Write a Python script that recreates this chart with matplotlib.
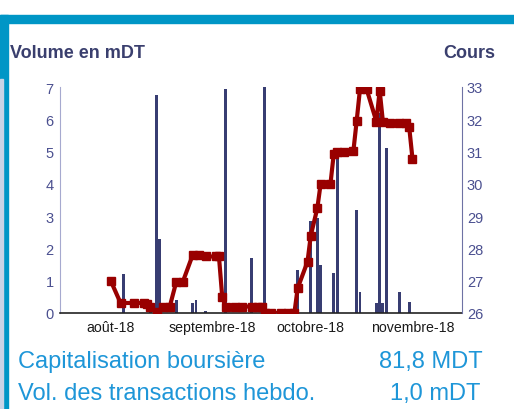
import datetime as dt

import matplotlib
matplotlib.use("Agg")
import matplotlib.pyplot as plt
import matplotlib.dates as mdates
from matplotlib.patches import Rectangle

# Colors
FRAME_BLUE = "#0096C6"
BAR_COLOR = "#383D72"
LINE_COLOR = "#990000"
TITLE_COLOR = "#3A3F6E"
TICK_COLOR = "#4B5090"
INFO_COLOR = "#1E96D8"

plt.rcParams["font.family"] = ["Liberation Sans", "DejaVu Sans"]

# Daily traded volume (mDT), left axis
bar_dates = ["2018-08-05", "2018-08-13", "2018-08-15", "2018-08-16", "2018-08-21",
             "2018-08-26", "2018-08-27", "2018-08-30", "2018-09-05", "2018-09-13",
             "2018-09-17", "2018-09-27", "2018-10-01", "2018-10-03", "2018-10-04",
             "2018-10-08", "2018-10-09", "2018-10-15", "2018-10-16", "2018-10-21",
             "2018-10-22", "2018-10-23", "2018-10-24", "2018-10-28", "2018-10-31"]
bar_volume = [1.2, 0.1, 6.76, 2.3, 0.4,
              0.3, 0.4, 0.07, 6.94, 1.7,
              7.0, 1.34, 2.86, 2.94, 1.49,
              1.24, 4.91, 3.19, 0.65, 0.32,
              6.2, 0.32, 5.1, 0.65, 0.34]

# Share price (cours), right axis
price_dates = ["2018-08-01", "2018-08-04", "2018-08-08", "2018-08-11", "2018-08-12",
               "2018-08-13", "2018-08-15", "2018-08-17", "2018-08-19", "2018-08-21",
               "2018-08-23", "2018-08-26", "2018-08-28", "2018-08-30", "2018-09-02",
               "2018-09-03", "2018-09-04", "2018-09-05", "2018-09-08", "2018-09-10",
               "2018-09-13", "2018-09-15", "2018-09-16", "2018-09-17", "2018-09-19",
               "2018-09-22", "2018-09-24", "2018-09-26", "2018-09-27", "2018-09-30",
               "2018-10-01", "2018-10-03", "2018-10-04", "2018-10-07", "2018-10-08",
               "2018-10-09", "2018-10-11", "2018-10-14", "2018-10-15", "2018-10-16",
               "2018-10-18", "2018-10-21", "2018-10-22", "2018-10-23", "2018-10-25",
               "2018-10-28", "2018-10-30", "2018-10-31", "2018-11-01"]
price = [27.0, 26.31, 26.31, 26.31, 26.28,
         26.2, 26.02, 26.2, 26.2, 26.97,
         26.97, 27.8, 27.8, 27.75, 27.75,
         27.75, 26.5, 26.2, 26.2, 26.2,
         26.2, 26.2, 26.18, 26.0, 26.0,
         26.0, 26.0, 26.0, 26.77, 27.59,
         28.4, 29.25, 30.0, 30.0, 30.93,
         31.0, 31.0, 31.03, 31.96, 32.94,
         32.94, 31.93, 32.89, 31.91, 31.9,
         31.88, 31.88, 31.76, 30.78]

month_ticks = ["2018-08-01", "2018-09-01", "2018-10-01", "2018-11-01"]
month_labels = ["août-18", "septembre-18", "octobre-18", "novembre-18"]

# Info lines under the chart
info_labels = ["Capitalisation boursière", "Vol. des transactions hebdo."]
info_values = ["81,8 MDT", "1,0 mDT"]


def to_num(dates):
    return [mdates.date2num(dt.datetime.strptime(d, "%Y-%m-%d")) for d in dates]


# Draws the blue frame (top band and left bar) around the card
def draw_frame(fig):
    fig.patches.append(Rectangle((0, 1 - 24 / 410), 1, 8 / 410, transform=fig.transFigure,
                                 color=FRAME_BLUE, zorder=0))
    fig.patches.append(Rectangle((0, 0), 8 / 514, 1 - 16 / 410, transform=fig.transFigure,
                                 color=FRAME_BLUE, zorder=0))
    fig.patches.append(Rectangle((0, 0), 2.5 / 514, 1 - 80 / 410, transform=fig.transFigure,
                                 color="#C9D4E6", zorder=1))


def create_chart():
    fig = plt.figure(figsize=(5.14, 4.10), dpi=100)
    draw_frame(fig)

    ax = fig.add_axes([60 / 514, 1 - 314 / 410, 402 / 514, 226 / 410])
    ax2 = ax.twinx()

    ax.bar(to_num(bar_dates), bar_volume, width=0.9, color=BAR_COLOR, zorder=2)
    ax2.plot(to_num(price_dates), price, color=LINE_COLOR, linewidth=3.0,
             marker="s", markersize=5.3, zorder=3)

    start = mdates.date2num(dt.datetime(2018, 8, 1))
    ax.set_xlim(start - 15.46, start + 107.1)
    ax.set_ylim(0, 7)
    ax2.set_ylim(26, 33)

    ax.set_xticks(to_num(month_ticks))
    ax.set_xticklabels(month_labels)
    ax.tick_params(axis="x", length=0, pad=5, labelsize=10.2, colors="#1A1A1A")
    ax.tick_params(axis="y", length=0, pad=4.5, labelsize=10.5, colors=TICK_COLOR)
    ax2.tick_params(axis="y", length=0, pad=3.5, labelsize=10.5, colors=TICK_COLOR)
    ax.set_yticks(range(0, 8))
    ax2.set_yticks(range(26, 34))

    for a in (ax, ax2):
        a.spines["top"].set_visible(False)
        a.patch.set_visible(False)
    ax.spines["left"].set_color("#A6A9CF")
    ax.spines["right"].set_visible(False)
    ax2.spines["left"].set_visible(False)
    ax2.spines["bottom"].set_visible(False)
    ax2.spines["right"].set_color("#6E72A4")
    ax.spines["bottom"].set_color("#222222")
    ax.spines["bottom"].set_linewidth(1.2)

    fig.text(10 / 514, 1 - 53 / 410, "Volume en mDT", fontsize=13, fontweight="bold",
             color=TITLE_COLOR, ha="left", va="center")
    fig.text(495 / 514, 1 - 53 / 410, "Cours", fontsize=13, fontweight="bold",
             color=TITLE_COLOR, ha="right", va="center")

    baselines = [368, 400]
    right_edges = [483, 480]
    for label, value, base, right in zip(info_labels, info_values, baselines, right_edges):
        fig.text(18 / 514, 1 - base / 410, label, fontsize=17, color=INFO_COLOR,
                 ha="left", va="baseline")
        fig.text(right / 514, 1 - base / 410, value, fontsize=17, color=INFO_COLOR,
                 ha="right", va="baseline")

    fig.savefig("out.png", dpi=100)


def main():
    create_chart()


if __name__ == "__main__":
    main()
